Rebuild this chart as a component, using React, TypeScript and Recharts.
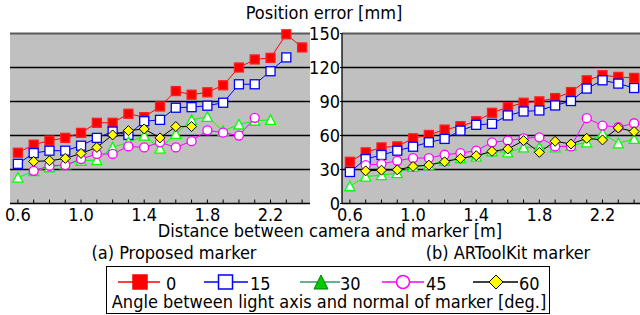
import React from 'react';
import { LineChart, Line, XAxis, YAxis, CartesianGrid } from 'recharts';

const distances = ['0.6', '0.7', '0.8', '0.9', '1.0', '1.1', '1.2', '1.3', '1.4', '1.5', '1.6', '1.7', '1.8', '1.9', '2.0', '2.1', '2.2', '2.3', '2.4'];
const labeledTicks = ['0.6', '1.0', '1.4', '1.8', '2.2'];
const yTicks = [0, 30, 60, 90, 120, 150];
const gridValues = [30, 60, 90, 120];
const topValues = [150];

// (a) Proposed marker
const proposed0 = [44.8, 51.9, 55.5, 57.9, 62.3, 71.2, 71.2, 79.2, 76.2, 85.6, 99.2, 96.0, 98.1, 104.3, 120.0, 127.1, 128.5, 149.3, 137.7];
const proposed15 = [35.0, 44.5, 46.6, 46.6, 51.0, 57.9, 63.5, 60.5, 72.6, 73.8, 84.5, 85.0, 86.3, 88.9, 105.2, 105.2, 116.7, 128.9, null];
const proposed30 = [22.9, 28.5, 32.0, 34.5, 37.7, 38.3, 49.5, 54.0, 59.9, 48.5, 61.4, 73.8, 76.5, 64.0, 69.7, 73.0, 73.8, null, null];
const proposed45 = [null, 28.8, 33.3, 33.9, 39.2, 43.7, 43.7, 50.4, 49.5, 54.0, 49.5, 55.0, 64.6, 62.5, 59.9, 75.6, null, null, null];
const proposed60 = [null, 37.1, 37.7, 39.8, 44.2, 49.5, 60.5, 64.3, 65.8, 57.9, 67.9, 67.9, null, null, null, null, null, null, null];

// (b) ARToolKit marker
const artk0 = [36.8, 45.1, 49.5, 50.4, 57.5, 60.5, 65.2, 68.2, 72.6, 80.0, 85.0, 88.9, 90.1, 93.0, 98.3, 108.7, 113.2, 111.7, 110.8];
const artk15 = [27.8, 39.2, 42.8, 46.6, 50.1, 54.0, 57.0, 64.3, 69.4, 70.3, 77.7, 81.2, 82.1, 86.5, 90.4, 101.4, 108.7, 105.8, 101.9];
const artk30 = [15.2, 23.8, 25.0, 26.8, 32.4, 33.9, 37.7, 40.1, 41.3, 46.0, 45.1, 49.5, 49.5, 49.5, 51.0, 54.0, 62.0, 53.1, 57.0];
const artk45 = [null, 33.9, 34.8, 37.7, 40.1, 40.1, 43.0, 44.5, 46.6, 54.0, 55.5, 57.5, 58.4, 50.4, 50.4, 75.3, 68.8, 67.3, 70.8];
const artk60 = [null, 28.8, 29.4, 29.7, 32.7, 33.9, 36.8, 39.8, 42.2, 46.0, 48.1, 55.5, 45.1, 54.9, 52.5, 57.5, 56.1, 66.7, 63.5];

const angles = ['0', '15', '30', '45', '60'];

const FONT = "'DejaVu Sans Condensed', 'Liberation Sans', sans-serif";

const buildRows = (sets: (number | null)[][]) =>
  distances.map((d, i) => {
    const row: Record<string, string | number | null> = { d };
    angles.forEach((a, k) => { row['a' + a] = sets[k][i]; });
    return row;
  });

const proposedRows = buildRows([proposed0, proposed15, proposed30, proposed45, proposed60]);
const artkRows = buildRows([artk0, artk15, artk30, artk45, artk60]);

type DotProps = { cx?: number; cy?: number; value?: number | null };

const makeDot = (shape: string, fill: string, stroke: string) => (p: DotProps) => {
  const { cx, cy, value } = p;
  if (cx == null || cy == null || value == null) return <g />;
  const r = 4.5;
  if (shape === 'square') {
    return <rect x={cx - r} y={cy - r} width={r * 2} height={r * 2} fill={fill} stroke={stroke} strokeWidth={1.3} />;
  }
  if (shape === 'triangle') {
    return <polygon points={`${cx},${cy - r - 0.5} ${cx + r + 0.5},${cy + r} ${cx - r - 0.5},${cy + r}`} fill={fill} stroke={stroke} strokeWidth={1.3} />;
  }
  if (shape === 'circle') {
    return <circle cx={cx} cy={cy} r={r} fill={fill} stroke={stroke} strokeWidth={1.3} />;
  }
  return <polygon points={`${cx},${cy - r - 0.5} ${cx + r + 0.5},${cy} ${cx},${cy + r + 0.5} ${cx - r - 0.5},${cy}`} fill={fill} stroke={stroke} strokeWidth={1} />;
};

const series = [
  { key: 'a0', line: '#ff0000', dot: makeDot('square', '#ff0000', '#ff2020') },
  { key: 'a15', line: '#0000ff', dot: makeDot('square', '#ffffff', '#0000ff') },
  { key: 'a30', line: '#00ff00', dot: makeDot('triangle', '#ffffff', '#00ff00') },
  { key: 'a45', line: '#ff00ff', dot: makeDot('circle', '#ffffff', '#ff00ff') },
  { key: 'a60', line: '#000000', dot: makeDot('diamond', '#ffff00', '#000000') },
];

const XTick = (p: { x?: number; y?: number; payload?: { value: string } }) => {
  const x = p.x ?? 0;
  const y = p.y ?? 0;
  const v = p.payload?.value ?? '';
  return (
    <g>
      <line x1={x} x2={x} y1={y - 4} y2={y} stroke="#000" strokeWidth={1} />
      {labeledTicks.includes(v) && (
        <text x={x} y={y + 17} textAnchor="middle" fontSize={18} fontFamily={FONT} fill="#000">{v}</text>
      )}
    </g>
  );
};

const NoTick = () => <g />;

function Panel({ rows, width, yWidth, showY }: { rows: Record<string, string | number | null>[]; width: number; yWidth: number; showY: boolean }) {
  return (
    <LineChart width={width} height={226} data={rows} margin={{ top: 33.5, right: 2, bottom: 0, left: showY ? 0 : 10 }}>
      <CartesianGrid fill="#c0c0c0" stroke="#000" strokeWidth={1.3} vertical={false} horizontalValues={gridValues} />
      <CartesianGrid fill="none" stroke="#5a5a5a" strokeWidth={2} vertical={false} horizontalValues={topValues} />
      <XAxis
        dataKey="d"
        interval={0}
        padding={{ left: 7.9, right: 7.9 }}
        height={22.5}
        tickSize={0}
        tickMargin={0}
        tickLine={false}
        axisLine={{ stroke: '#000', strokeWidth: 1.3 }}
        tick={XTick}
      />
      <YAxis
        domain={[0, 150]}
        ticks={yTicks}
        width={yWidth}
        interval={0}
        tick={showY ? { fontSize: 18, fontFamily: FONT, fill: '#000' } : NoTick}
        tickSize={showY ? 2 : 0}
        tickMargin={0}
        tickLine={showY ? { stroke: '#000' } : false}
        axisLine={{ stroke: '#000', strokeWidth: 1.3 }}
      />
      <YAxis yAxisId="right" orientation="right" width={0} domain={[0, 150]} tick={NoTick} tickLine={false} axisLine={{ stroke: '#8a8a8a', strokeWidth: 1 }} />
      {series.map((s) => (
        <Line
          key={s.key}
          type="linear"
          dataKey={s.key}
          stroke={s.line}
          strokeWidth={1}
          dot={s.dot}
          activeDot={false}
          connectNulls={false}
          isAnimationActive={false}
        />
      ))}
    </LineChart>
  );
}

const legendItems = [
  { label: '0', x0: 118, x1: 160, cx: 140, lx: 166, line: '#ff0000', shape: 'square', fill: '#ff0000', stroke: '#ff0000' },
  { label: '15', x0: 204, x1: 248, cx: 225.5, lx: 250, line: '#0000ff', shape: 'square', fill: '#ffffff', stroke: '#0000ff' },
  { label: '30', x0: 300, x1: 340, cx: 321, lx: 340, line: '#339966', shape: 'triangle', fill: '#00cc00', stroke: '#008000' },
  { label: '45', x0: 382, x1: 424, cx: 403, lx: 426, line: '#ff00ff', shape: 'circle', fill: '#ffffff', stroke: '#ff00ff' },
  { label: '60', x0: 473, x1: 518, cx: 496, lx: 519, line: '#000000', shape: 'diamond', fill: '#ffff00', stroke: '#000000' },
];

function LegendMarker({ shape, cx, cy, fill, stroke }: { shape: string; cx: number; cy: number; fill: string; stroke: string }) {
  const r = 7;
  if (shape === 'square') return <rect x={cx - r} y={cy - r} width={r * 2} height={r * 2} fill={fill} stroke={stroke} strokeWidth={1.5} />;
  if (shape === 'triangle') return <polygon points={`${cx},${cy - r} ${cx + r},${cy + r} ${cx - r},${cy + r}`} fill={fill} stroke={stroke} strokeWidth={1} />;
  if (shape === 'circle') return <circle cx={cx} cy={cy} r={r - 0.5} fill={fill} stroke={stroke} strokeWidth={1.5} />;
  return <polygon points={`${cx},${cy - r} ${cx + r},${cy} ${cx},${cy + r} ${cx - r},${cy}`} fill={fill} stroke={stroke} strokeWidth={1} />;
}

export default function App() {
  return (
    <div style={{ position: 'absolute', left: 0, top: 0, width: 640, height: 315, overflow: 'hidden', background: '#fff', fontFamily: FONT }}>
      <div style={{ position: 'absolute', left: 0, top: 0 }}>
        <Panel rows={proposedRows} width={312} yWidth={0} showY={false} />
      </div>
      <div style={{ position: 'absolute', left: 298, top: 0 }}>
        <Panel rows={artkRows} width={346} yWidth={44} showY={true} />
      </div>
      <svg width={640} height={315} style={{ position: 'absolute', left: 0, top: 0, pointerEvents: 'none' }} fontFamily={FONT} fontSize={18}>
        <text x={324} y={19} textAnchor="middle">Position error [mm]</text>
        <text x={330} y={237} textAnchor="middle">Distance between camera and marker [m]</text>
        <text x={174} y={259} textAnchor="middle">(a) Proposed marker</text>
        <text x={508} y={259} textAnchor="middle">(b) ARToolKit marker</text>
        <rect x={106.5} y={266.5} width={443} height={47} fill="none" stroke="#000" strokeWidth={1} />
        {legendItems.map((it) => (
          <g key={it.label}>
            <line x1={it.x0} x2={it.x1} y1={282} y2={282} stroke={it.line} strokeWidth={1.5} />
            <LegendMarker shape={it.shape} cx={it.cx} cy={282} fill={it.fill} stroke={it.stroke} />
            <text x={it.lx} y={290}>{it.label}</text>
          </g>
        ))}
        <text x={329} y={308} textAnchor="middle">Angle between light axis and normal of marker [deg.]</text>
      </svg>
    </div>
  );
}
